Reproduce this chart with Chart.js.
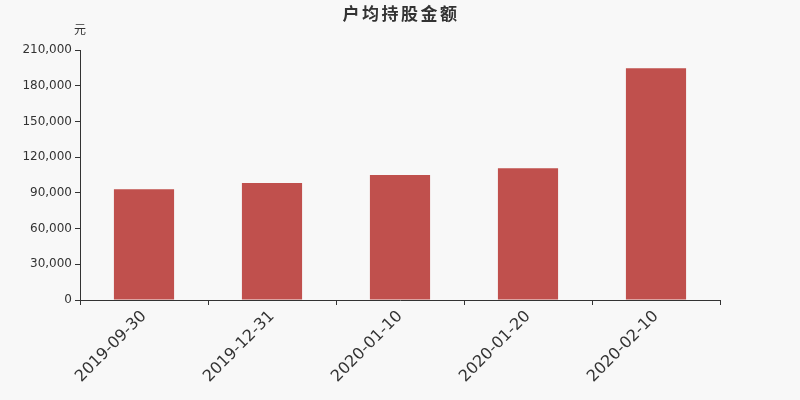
<!DOCTYPE html>
<html><head><meta charset="utf-8">
<script src="https://cdn.jsdelivr.net/npm/chart.js@4/dist/chart.umd.min.js"></script>
<style>html,body{margin:0;padding:0;background:#f8f8f8;}#wrap{width:800px;height:400px;}</style>
</head><body><div id="wrap"><canvas id="c" width="800" height="400"></canvas></div>
<script>
const categories = ["2019-09-30","2019-12-31","2020-01-10","2020-01-20","2020-02-10"];
const values = [93000, 98300, 105000, 110600, 194600];
const yTicks = [0,30000,60000,90000,120000,150000,180000,210000];
const titleText = "户均持股金额";
const unitText = "元";

const fontFam = "'DejaVu Sans', sans-serif";
const textPlugin = {
  id:'textPlugin',
  beforeDraw(chart){
    const ctx = chart.ctx;
    ctx.save();
    ctx.fillStyle = '#f8f8f8';
    ctx.fillRect(0,0,chart.width,chart.height);
    ctx.restore();
  },
  afterDraw(chart){
    const ctx = chart.ctx;
    ctx.save();
    ctx.fillStyle = '#333';
    ctx.textAlign = 'center';
    ctx.textBaseline = 'middle';
    ctx.font = "bold 17px 'Noto Sans CJK SC', sans-serif";
    try { ctx.letterSpacing = '2.5px'; } catch(e) {}
    ctx.fillText(titleText, 401, 14);
    try { ctx.letterSpacing = '0px'; } catch(e) {}
    ctx.font = "12px 'Noto Sans CJK SC', sans-serif";
    ctx.fillText(unitText, 80, 29);
    ctx.restore();
  }
};

new Chart(document.getElementById('c'), {
  type:'bar',
  data:{labels:categories, datasets:[{data:values, backgroundColor:'#c0504d', categoryPercentage:0.94, barPercentage:0.5}]},
  options:{
    responsive:false, animation:false, devicePixelRatio:1,
    layout:{padding:{top:50,left:0,right:80,bottom:0}},
    plugins:{legend:{display:false}, tooltip:{enabled:false}, title:{display:false}},
    scales:{
      x:{
        grid:{display:true, drawOnChartArea:false, drawTicks:true, tickLength:5, color:'#333', offset:true},
        border:{display:true,color:'#333',width:1},
        ticks:{color:'#333', font:{family:fontFam,size:16}, maxRotation:45, minRotation:45, padding:2, autoSkip:false},
        afterFit(s){s.height=100;}
      },
      y:{
        min:0, max:210000,
        afterBuildTicks(s){s.ticks = yTicks.map(v=>({value:v}));},
        grid:{display:true, drawOnChartArea:false, drawTicks:true, tickLength:5, color:'#333'},
        border:{display:true,color:'#333',width:1},
        ticks:{color:'#333', font:{family:fontFam,size:12}, padding:3,
          callback:(v)=>v.toLocaleString('en-US')},
        afterFit(s){s.width=80;}
      }
    }
  },
  plugins:[textPlugin]
});
</script></body></html>
